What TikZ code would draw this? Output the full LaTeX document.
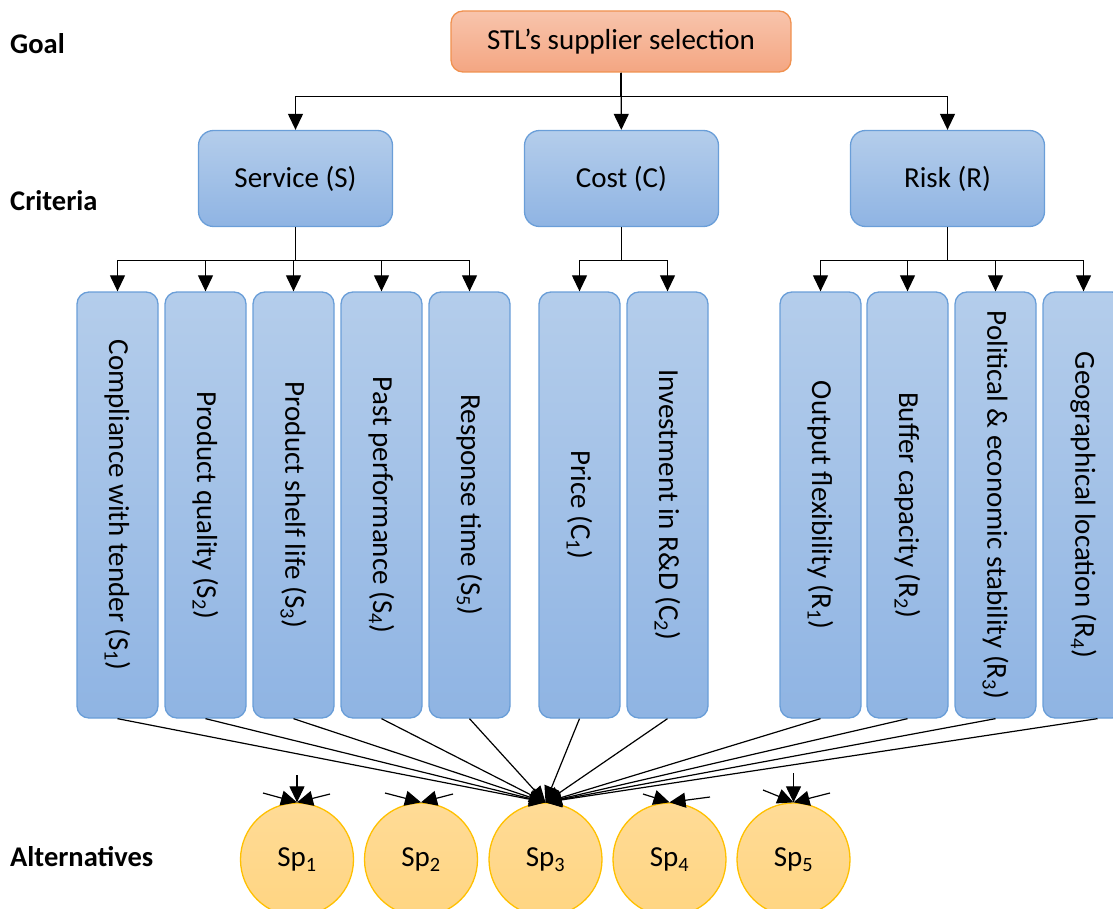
\documentclass[tikz,border=0pt]{standalone}
\usepackage{fontspec}
\usepackage{graphicx}
\setmainfont{Carlito}
\usetikzlibrary{arrows.meta}
\definecolor{goaltop}{HTML}{F8C4AC}
\definecolor{goalbot}{HTML}{F4A682}
\definecolor{goalline}{HTML}{F0914F}
\definecolor{bluetop}{HTML}{B4CDEB}
\definecolor{bluebot}{HTML}{8FB4E3}
\definecolor{blueline}{HTML}{6A9ED8}
\definecolor{alttop}{HTML}{FFDB96}
\definecolor{altbot}{HTML}{FFD582}
\definecolor{altline}{HTML}{FFC000}
\begin{document}
\begin{tikzpicture}[x=1pt, y=-1pt,
	every node/.style={font=\fontsize{29}{35}\selectfont, inner sep=0pt},
	goalbox/.style={draw=goalline, line width=1.3pt, rounded corners=12pt, top color=goaltop, bottom color=goalbot, minimum width=340pt, minimum height=61pt},
	critbox/.style={draw=blueline, line width=1.3pt, rounded corners=15pt, top color=bluetop, bottom color=bluebot, minimum width=194pt, minimum height=96pt},
	subbox/.style={draw=blueline, line width=1.3pt, rounded corners=12pt, top color=bluetop, bottom color=bluebot, minimum width=81pt, minimum height=426pt},
	altnode/.style={circle, draw=altline, line width=1.3pt, top color=alttop, bottom color=altbot, minimum size=113pt},
	levellabel/.style={anchor=west, font=\fontsize{28.5}{34}\selectfont\bfseries},
	arr/.style={line width=1.2pt, -{Triangle[length=16pt,width=15pt]}}]
	\useasboundingbox (0,0) rectangle (1113,909);
	% Ebenen
	\node[levellabel] (lgoal) at (10,44) {Goal};
	\node[levellabel] (lcrit) at (10,201) {Criteria};
	\node[levellabel] (lalt) at (10,857) {Alternatives};
	% Ziel und Kriterien
	\node[goalbox] (goal) at (621,41.5) {STL’s supplier selection};
	\node[critbox] (service) at (295.5,178.5) {Service (S)};
	\node[critbox] (cost) at (621.5,178.5) {Cost (C)};
	\node[critbox] (risk) at (947.5,178.5) {Risk (R)};
	\draw[arr] (goal) -- (cost);
	\draw[arr] (goal.south) -- ++(0,23.5) -| (service.north);
	\draw[arr] (goal.south) -- ++(0,23.5) -| (risk.north);
	% Unterkriterien
	\foreach \nm/\xc/\txt in {s1/117.5/Compliance with tender (S\textsubscript{1}),
		s2/205.5/Product quality (S\textsubscript{2}),
		s3/293.5/Product shelf life (S\textsubscript{3}),
		s4/381.5/Past performance (S\textsubscript{4}),
		s5/469.5/Response time (S\textsubscript{5}),
		c1/579.5/Price (C\textsubscript{1}),
		c2/667.5/Investment in R\&D (C\textsubscript{2}),
		r1/820.5/Output flexibility (R\textsubscript{1}),
		r2/907.5/Buffer capacity (R\textsubscript{2}),
		r3/995.5/Political \& economic stability (R\textsubscript{3}),
		r4/1083.5/Geographical location (R\textsubscript{4})}
		\node[subbox] (\nm) at (\xc,505) {\rotatebox{-90}{\txt}};
	\foreach \nm in {s1,s2,s3,s4,s5}
		\draw[arr] (service.south) -- ++(0,33.5) -| (\nm.north);
	\foreach \nm in {c1,c2}
		\draw[arr] (cost.south) -- ++(0,33.5) -| (\nm.north);
	\foreach \nm in {r1,r2,r3,r4}
		\draw[arr] (risk.south) -- ++(0,33.5) -| (\nm.north);
	% Alternativen
	\foreach \i/\xc in {1/297,2/421,3/545.5,4/669.5,5/793.5}
		\node[altnode] (sp\i) at (\xc,859.5) {Sp\textsubscript{\i}};
	\foreach \nm in {s1,s2,s3,s4,s5,c1,c2,r1,r2,r3}
		\draw[arr] (\nm.south) -- (sp3.north);
	\draw[arr] ([xshift=14pt]r4.south) -- (sp3.north);
	% kurze Pfeile
	\coordinate (st1) at (297,775);
	\coordinate (sl1) at (263,793);
	\coordinate (sr1) at (330,794);
	\coordinate (sl2) at (385,793);
	\coordinate (sr2) at (453,794);
	\coordinate (sl4) at (643,794);
	\coordinate (sr4) at (710,797);
	\coordinate (st5) at (793.5,773);
	\coordinate (sl5) at (763,790);
	\coordinate (sr5) at (830,793);
	\foreach \c in {st1,sl1,sr1}
		\draw[arr] (\c) -- (sp1.north);
	\foreach \c in {sl2,sr2}
		\draw[arr] (\c) -- (sp2.north);
	\foreach \c in {sl4,sr4}
		\draw[arr] (\c) -- (sp4.north);
	\foreach \c in {st5,sl5,sr5}
		\draw[arr] (\c) -- (sp5.north);
\end{tikzpicture}
\end{document}
